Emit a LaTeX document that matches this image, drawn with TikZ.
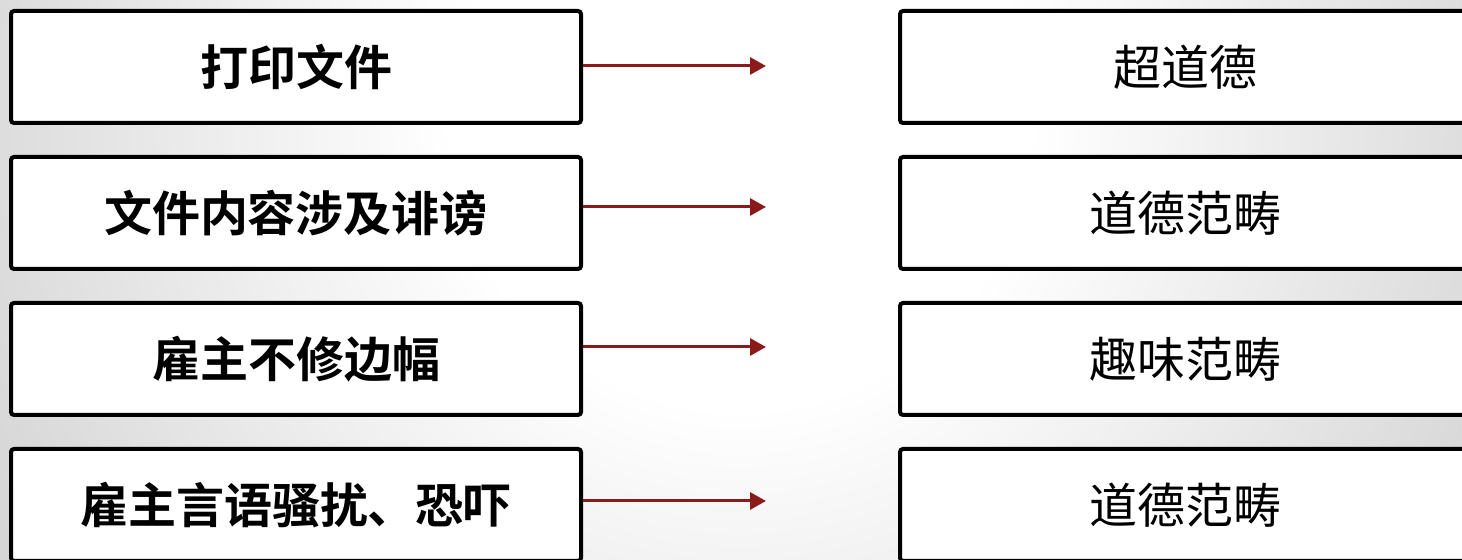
\documentclass[tikz,border=0pt]{standalone}
\usepackage{fontspec}
\newfontfamily\cjk{Noto Sans CJK SC}[BoldFont={Noto Sans CJK SC Bold}]
\usetikzlibrary{arrows.meta,positioning}
\definecolor{arrowred}{RGB}{139,26,26}
\pgfdeclareradialshading{glow}{\pgfpointorigin}{color(0bp)=(white); color(8bp)=(white); color(22bp)=(black!15); color(40bp)=(black!27); color(50bp)=(black!38)}

\begin{document}
\begin{tikzpicture}[node distance=15pt and 157.5pt,>={Triangle[length=8pt,width=8.5pt]}]
  \tikzstyle{card}=[rectangle,draw=black,line width=2pt,fill=white,rounded corners=1.5pt,
                    minimum width=285pt,minimum height=56pt,font=\cjk\fontsize{24pt}{28pt}\selectfont]
  \tikzstyle{fact}=[card,font=\cjk\bfseries\fontsize{24pt}{28pt}\selectfont]
  \tikzstyle{link}=[->,draw=arrowred,line width=1.5pt]

  \useasboundingbox (0,0) rectangle (731pt,280pt);
  \begin{scope}
    \clip (0,0) rectangle (731pt,280pt);
    \shade [shading=glow] (-80pt,-230pt) rectangle (820pt,670pt);

    % what happened
    \node [fact] (f1) at (148pt,246.5pt) {打印文件};
    \node [fact] (f2) [below=of f1] {文件内容涉及诽谤};
    \node [fact] (f3) [below=of f2] {雇主不修边幅};
    \node [fact] (f4) [below=of f3] {雇主言语骚扰、恐吓};

    % where it belongs
    \node [card] (m1) [right=of f1] {超道德};
    \node [card] (m2) [right=of f2] {道德范畴};
    \node [card] (m3) [right=of f3] {趣味范畴};
    \node [card] (m4) [right=of f4] {道德范畴};
  \end{scope}

  \foreach \i/\dy in {1/0.5,2/3,3/6,4/2} {
    \coordinate (tip\i) at ([xshift=91.5pt,yshift=\dy pt]f\i.east);
    \draw [link] (f\i.east |- tip\i) -- (tip\i);
  }
\end{tikzpicture}
\end{document}
